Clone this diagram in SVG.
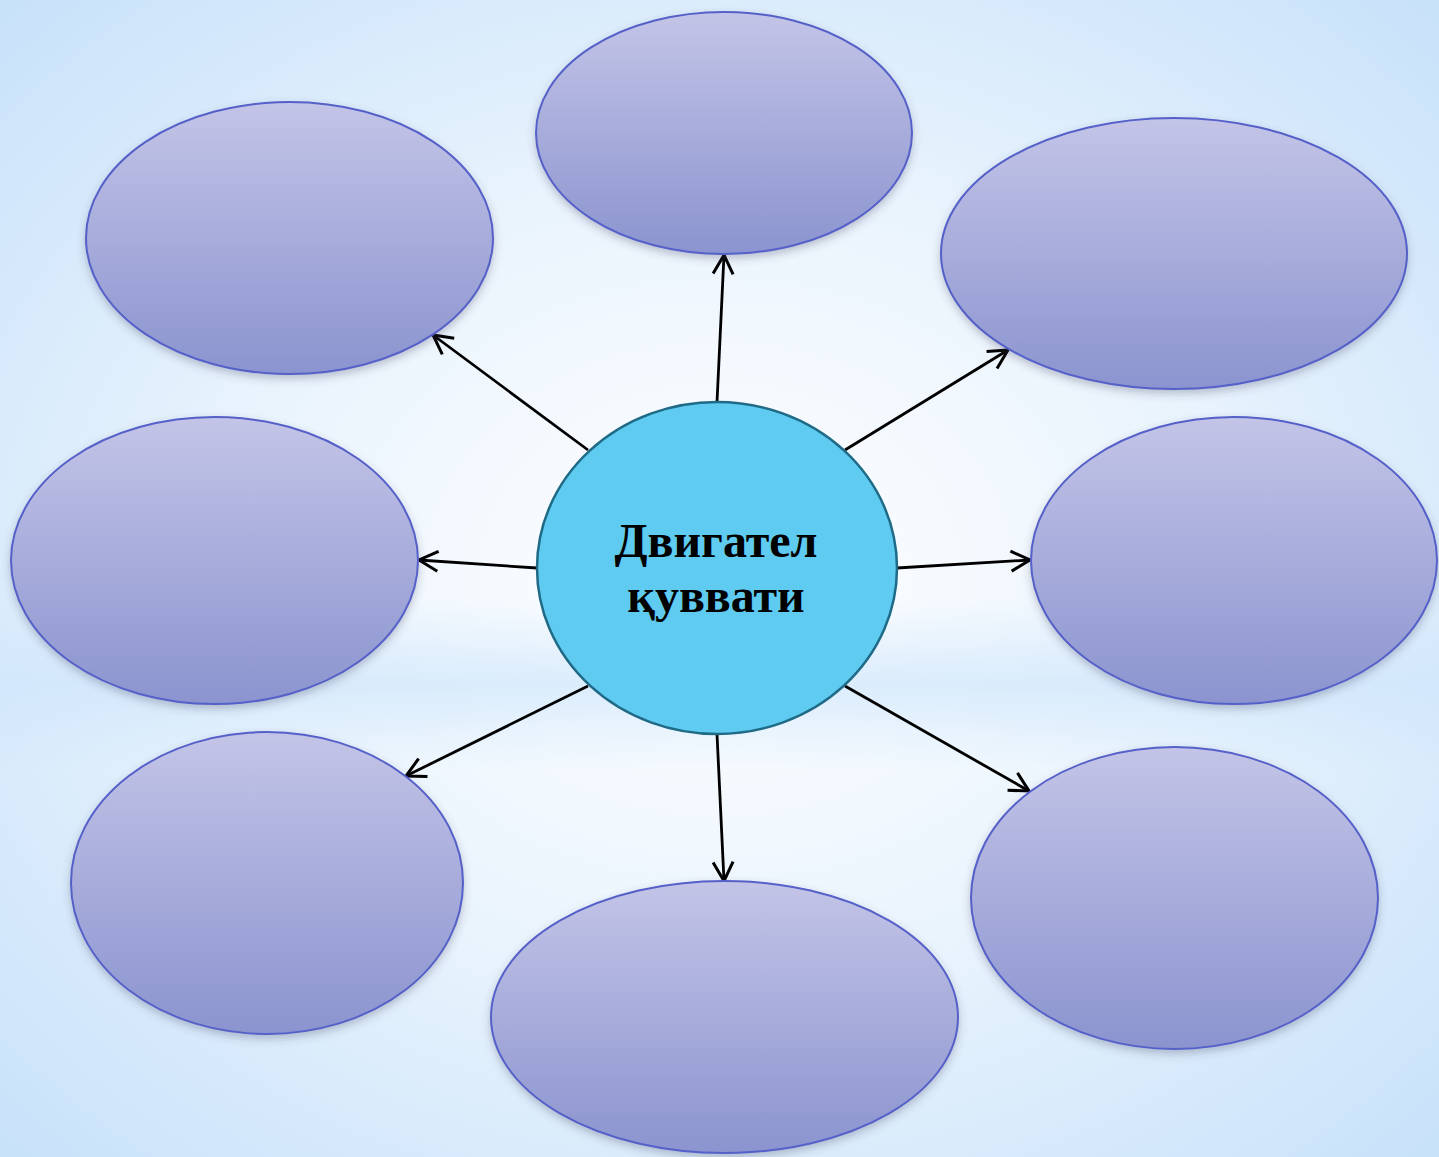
<svg xmlns="http://www.w3.org/2000/svg" width="1439" height="1157" viewBox="0 0 1439 1157">
<defs>
<radialGradient id="bg" cx="0.5" cy="0.5" r="0.75">
<stop offset="0" stop-color="#ffffff"/>
<stop offset="0.45" stop-color="#eaf4fd"/>
<stop offset="1" stop-color="#c3dff9"/>
</radialGradient>
<linearGradient id="band" x1="0" y1="0" x2="0" y2="1">
<stop offset="0" stop-color="#cfe6fb" stop-opacity="0"/>
<stop offset="0.5" stop-color="#cfe6fb" stop-opacity="0.7"/>
<stop offset="1" stop-color="#cfe6fb" stop-opacity="0"/>
</linearGradient>
<linearGradient id="ell" x1="0" y1="0" x2="0" y2="1">
<stop offset="0" stop-color="#c3c4e7"/>
<stop offset="1" stop-color="#8b94cf"/>
</linearGradient>
<filter id="sh" x="-10%" y="-10%" width="120%" height="125%">
<feDropShadow dx="0" dy="4" stdDeviation="4" flood-color="#404060" flood-opacity="0.3"/>
</filter>
<marker id="arr" viewBox="0 0 24 24" refX="21" refY="12" markerWidth="24" markerHeight="24" markerUnits="userSpaceOnUse" orient="auto">
<polyline points="2,2 21,12 2,22" fill="none" stroke="#000" stroke-width="3"/>
</marker>
<style>
.n{fill:url(#ell);stroke:#5560c8;stroke-width:2;filter:url(#sh)}
.c{stroke:#000;stroke-width:2.8;fill:none;marker-end:url(#arr)}
.t{font-family:"Liberation Serif","Times New Roman",serif;font-weight:bold;font-size:48px;fill:#000;text-anchor:middle}
</style>
</defs>
<rect width="1439" height="1157" fill="url(#bg)"/>
<rect x="0" y="600" width="1439" height="170" fill="url(#band)"/>
<g id="connectors">
<line class="c" x1="717" y1="402" x2="724" y2="255"/>
<line class="c" x1="588" y1="450" x2="433" y2="335"/>
<line class="c" x1="845" y1="450" x2="1008" y2="350"/>
<line class="c" x1="537" y1="568" x2="419" y2="560"/>
<line class="c" x1="897" y1="568" x2="1030" y2="560"/>
<line class="c" x1="588" y1="686" x2="406" y2="776"/>
<line class="c" x1="717" y1="734" x2="724" y2="881"/>
<line class="c" x1="845" y1="686" x2="1029" y2="791"/>
</g>
<g id="n-top"><ellipse class="n" cx="724" cy="133" rx="188" ry="121"/></g>
<g id="n-topleft"><ellipse class="n" cx="289.5" cy="238" rx="203.5" ry="136"/></g>
<g id="n-topright"><ellipse class="n" cx="1174" cy="253.5" rx="233" ry="135.5"/></g>
<g id="n-left"><ellipse class="n" cx="214.5" cy="560.5" rx="203.5" ry="143.5"/></g>
<g id="n-right"><ellipse class="n" cx="1234" cy="560.5" rx="203" ry="143.5"/></g>
<g id="n-bottomleft"><ellipse class="n" cx="267" cy="883" rx="196" ry="151"/></g>
<g id="n-bottom"><ellipse class="n" cx="724.5" cy="1017" rx="233.5" ry="136"/></g>
<g id="n-bottomright"><ellipse class="n" cx="1174.5" cy="898" rx="203.5" ry="151"/></g>
<g id="n-center">
<ellipse cx="717" cy="568" rx="180" ry="166" fill="#5fcbf1" stroke="#1f6a86" stroke-width="2.5"/>
<text class="t" x="716" y="557">Двигател</text>
<text class="t" x="716" y="612">қуввати</text>
</g>
</svg>
